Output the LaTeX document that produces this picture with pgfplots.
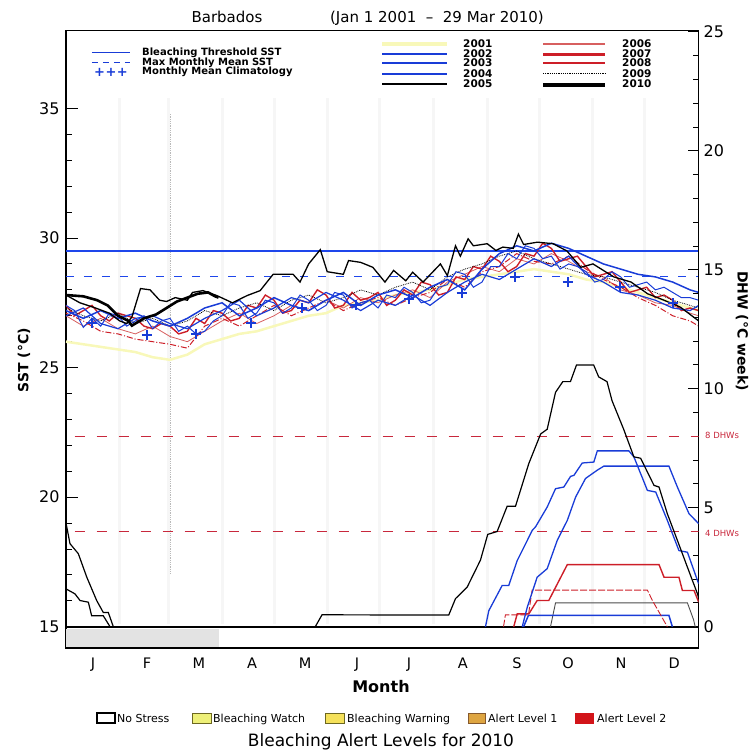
\documentclass[border=0pt]{standalone}
\usepackage{pgfplots}
\pgfplotsset{compat=1.18}
\usepackage{fontspec}
\setmainfont{DejaVu Sans}
\definecolor{cblue}{RGB}{25,60,215}
\definecolor{tblue}{RGB}{30,70,235}
\definecolor{cred}{RGB}{205,30,40}
\definecolor{cpink}{RGB}{215,95,95}
\definecolor{cyel}{RGB}{248,248,185}
\definecolor{dred}{RGB}{200,40,60}
\definecolor{watch}{RGB}{238,240,120}
\definecolor{warn}{RGB}{245,225,90}
\definecolor{alertone}{RGB}{222,165,65}
\definecolor{alerttwo}{RGB}{210,20,25}
\newcommand\fs[1]{\fontsize{#1}{#1}\selectfont}
\begin{document}
\begin{tikzpicture}
\begin{scope}[x=1pt,y=-1pt,shift={(-66pt,648pt)}]
\path (0,0) rectangle (750,753);
\end{scope}
% ---------------- SST axis ----------------
\begin{axis}[
  at={(0pt,0pt)}, anchor=south west,
  scale only axis, width=632.7pt, height=617.3pt,
  xmin=0, xmax=365, ymin=14.18, ymax=38,
  xtick={15.6,46.7,76.7,107.3,137.9,167.9,197.9,229,260.2,289.6,320.2,350.8},
  xticklabels={J,F,M,A,M,J,J,A,S,O,N,D},
  xtick style={draw=none},
  xtick pos=left, ytick pos=left,
  ytick={15,20,25,30,35}, minor y tick num=4,
  tick align=inside,
  major tick length=12pt, minor tick length=6pt,
  ytick style={black, line width=1pt},
  axis line style={line width=1.3pt},
  /pgf/number format/assume math mode=true,
  yticklabel style={font=\fs{16}, xshift=-3pt},
  xticklabel style={font=\fs{14.5}, yshift=-6pt},
]
% faint month boundaries
\pgfplotsinvokeforeach{31,59,90,120,151,181,212,243,273,304,334}{
  \addplot[gray!7, line width=3pt, forget plot] coordinates {(#1,15.1) (#1,35.4)};
}
\addplot[gray!55, densely dotted, line width=0.8pt, forget plot] coordinates {(60,17.05) (60,34.8)};
% thresholds
\addplot[tblue, line width=1.2pt] coordinates {(0,29.5) (365,29.5)};
\addplot[tblue, line width=1.1pt, dash pattern=on 8pt off 10pt] coordinates {(0,28.5) (365,28.5)};
% 2001
\addplot[cyel, line width=2.5pt] coordinates {(0,26.0)(10,25.9)(20,25.8)(30,25.7)(40,25.6)(50,25.4)(60,25.3)(70,25.5)(80,25.9)(90,26.1)(100,26.3)(110,26.4)(120,26.6)(130,26.8)(140,27.0)(150,27.1)(160,27.4)(170,27.5)(180,27.6)(190,27.8)(200,27.9)(210,28.0)(220,28.2)(230,28.4)(240,28.5)(250,28.6)(260,28.7)(270,28.8)(280,28.7)(290,28.6)(300,28.4)(310,28.3)(320,28.1)(330,27.9)(340,27.7)(350,27.5)(360,27.3)(365,27.2)};
% 2006
\addplot[cpink, line width=0.8pt] coordinates {(0,27.0)(10,26.6)(20,26.9)(30,26.5)(40,26.3)(50,26.6)(60,26.2)(70,26.0)(80,26.4)(90,26.8)(100,27.1)(110,26.7)(120,27.0)(130,27.4)(140,27.2)(150,27.6)(160,27.3)(170,27.7)(180,27.5)(190,27.8)(200,28.0)(210,27.7)(220,28.3)(230,28.6)(240,28.9)(250,28.7)(260,29.2)(270,29.0)(280,29.4)(290,29.1)(300,28.7)(310,28.5)(320,28.0)(330,27.8)(340,27.5)(350,27.4)(360,27.1)(365,27.0)};
% 2008
\addplot[cred, line width=1pt, dash pattern=on 6pt off 2pt on 1pt off 2pt] coordinates {(0,27.1)(10,26.8)(20,26.4)(30,26.3)(40,26.1)(50,26.0)(60,25.9)(70,25.75)(80,26.6)(90,26.9)(100,26.6)(110,27.0)(120,27.4)(130,27.0)(140,27.3)(150,27.6)(160,27.2)(170,27.5)(180,27.7)(190,27.4)(200,27.7)(210,27.9)(220,28.4)(230,28.1)(240,28.7)(250,28.9)(260,29.4)(270,29.1)(280,29.0)(290,29.3)(300,28.8)(310,28.4)(320,28.1)(330,27.7)(340,27.4)(350,27.0)(360,26.8)(365,26.6)};
% 2007
\addplot[cred, line width=1.4pt] coordinates {(0,27.4)(5,27.0)(10,27.2)(15,27.4)(20,27.0)(25,26.8)(30,27.1)(35,27.0)(40,26.9)(45,26.6)(50,26.5)(55,26.7)(60,26.6)(65,26.3)(70,26.4)(75,26.9)(80,26.7)(85,27.2)(90,27.1)(95,26.8)(100,26.9)(105,27.4)(110,27.3)(115,27.8)(120,27.6)(125,27.1)(130,27.2)(135,27.6)(140,27.5)(145,28.0)(150,27.8)(155,27.3)(160,27.4)(165,27.9)(170,27.6)(175,27.7)(180,27.9)(185,27.4)(190,27.6)(195,28.0)(200,27.8)(205,28.3)(210,28.2)(215,27.8)(220,27.9)(225,28.5)(230,28.4)(235,28.9)(240,28.8)(245,29.3)(250,29.1)(255,28.7)(260,28.9)(265,29.4)(270,29.3)(275,29.8)(280,29.6)(285,29.1)(290,29.2)(295,29.3)(300,28.9)(305,28.5)(310,28.6)(315,28.7)(320,28.3)(325,27.9)(330,28.0)(335,28.1)(340,27.7)(345,27.8)(350,27.6)(355,27.2)(360,27.3)(365,27.2)};
% 2009
\addplot[black, line width=0.8pt, densely dotted] coordinates {(0,27.3)(10,27.0)(20,26.8)(30,27.1)(40,26.7)(50,26.9)(60,26.6)(70,26.8)(80,27.2)(90,27.0)(100,27.3)(110,27.5)(120,27.2)(130,27.6)(140,27.8)(150,27.5)(160,27.7)(170,28.0)(180,27.8)(190,28.1)(200,28.3)(210,28.0)(220,28.5)(230,28.8)(240,29.0)(250,29.3)(260,29.5)(270,29.2)(280,29.0)(290,28.8)(300,28.6)(310,28.5)(320,28.3)(330,28.1)(340,27.9)(350,27.6)(360,27.4)(365,27.3)};
% 2002
\addplot[cblue, line width=1pt] coordinates {(0,27.4)(5,27.2)(10,26.55)(15,26.9)(20,26.6)(25,27.1)(30,27.0)(35,26.6)(40,26.8)(45,27.0)(50,26.5)(55,26.8)(60,26.9)(65,26.4)(70,26.6)(75,26.3)(80,26.4)(85,26.8)(90,27.0)(95,27.5)(100,27.4)(105,26.9)(110,27.1)(115,27.6)(120,27.5)(125,27.1)(130,27.3)(135,27.8)(140,27.6)(145,27.2)(150,27.4)(155,27.9)(160,27.8)(165,27.3)(170,27.5)(175,27.6)(180,27.3)(185,27.8)(190,27.7)(195,28.1)(200,27.9)(205,27.5)(210,27.6)(215,28.1)(220,28.2)(225,28.7)(230,28.6)(235,28.1)(240,28.3)(245,28.9)(250,28.9)(255,29.4)(260,29.2)(265,29.7)(270,29.6)(275,29.2)(280,29.3)(285,28.8)(290,29.0)(295,28.9)(300,28.7)(305,28.3)(310,28.4)(315,28.7)(320,28.5)(325,28.1)(330,28.2)(335,28.3)(340,28.0)(345,28.1)(350,27.9)(355,27.7)(360,27.7)(365,27.6)};
% 2003
\addplot[cblue, line width=1.5pt] coordinates {(0,27.2)(10,26.9)(20,27.2)(30,26.9)(40,27.1)(50,26.8)(60,26.6)(70,26.9)(80,27.3)(90,27.5)(100,27.0)(110,27.3)(120,27.7)(130,27.4)(140,27.2)(150,27.6)(160,27.9)(170,27.4)(180,27.8)(190,28.0)(200,27.7)(210,28.1)(220,28.4)(230,28.0)(240,28.8)(250,29.4)(260,29.7)(270,29.5)(280,29.8)(290,29.6)(300,29.3)(310,29.0)(320,28.8)(330,28.6)(340,28.5)(350,28.3)(360,28.0)(365,27.9)};
% 2004
\addplot[cblue, line width=1.2pt] coordinates {(0,27.0)(10,27.3)(20,26.7)(30,26.5)(40,26.9)(50,27.0)(60,26.7)(70,26.5)(80,26.9)(90,27.2)(100,27.6)(110,27.0)(120,27.3)(130,27.7)(140,27.5)(150,27.9)(160,27.6)(170,27.2)(180,27.6)(190,27.4)(200,27.8)(210,27.4)(220,27.9)(230,28.3)(240,28.6)(250,28.4)(260,28.8)(270,29.2)(280,28.9)(290,29.3)(300,28.6)(310,28.3)(320,27.9)(330,27.8)(340,27.6)(350,27.3)(360,27.2)(365,27.4)};
% 2005
\addplot[black, line width=1.3pt] coordinates {(0,27.8)(8,27.5)(17,27.3)(25,27.1)(31,26.8)(35,26.7)(38,26.95)(43,28.05)(48.5,28.0)(54,27.6)(58,27.55)(63,27.7)(70,27.6)(73,27.9)(79,27.97)(87,27.78)(96,27.5)(104.5,27.78)(112,27.97)(119.5,28.6)(131,28.6)(135,28.3)(140,29.0)(146.7,29.55)(150.7,28.7)(160,28.6)(163,29.13)(170,29.06)(177,28.87)(184,28.3)(189,28.75)(196,28.35)(200,28.68)(206,28.3)(216,29.0)(220,28.55)(224.7,29.7)(227.5,29.3)(232,29.97)(235,29.7)(243,29.78)(248,29.52)(252,29.65)(258,29.6)(261,30.15)(264,29.75)(272,29.84)(281,29.78)(289,29.5)(297,28.87)(304,29.0)(316,28.5)(326,28.3)(335.5,27.85)(345,27.6)(354.5,27.33)(365,26.8)};
% 2010
\addplot[black, line width=2.6pt] coordinates {(0,27.8)(10,27.75)(18,27.6)(24,27.4)(30,27.0)(36,26.8)(38,26.62)(45,26.9)(52,27.05)(58,27.3)(64,27.55)(70,27.7)(76,27.85)(82,27.9)(86,27.75)(88,27.7)};
% climatology
\addplot[only marks, mark=+, mark size=5pt, cblue, line width=2pt] coordinates {(15.2,26.73)(46.5,26.27)(75,26.3)(106.5,26.71)(136.3,27.3)(167.3,27.43)(198,27.65)(228.3,27.88)(259,28.49)(289.4,28.29)(319.6,28.1)(350,27.48)};
\end{axis}
% ---------------- DHW axis ----------------
\begin{axis}[
  at={(0pt,0pt)}, anchor=south west,
  scale only axis, width=632.7pt, height=617.3pt,
  xmin=0, xmax=365, ymin=-0.895, ymax=25.05,
  axis x line=none, axis y line*=right,
  ytick={0,5,10,15,20,25}, minor y tick num=4,
  tick align=inside,
  major tick length=11pt, minor tick length=6pt,
  ytick style={black, line width=1pt},
  axis line style={line width=1.3pt},
  /pgf/number format/assume math mode=true,
  yticklabel style={font=\fs{16}, xshift=1.5pt},
]
\addplot[fill=gray!22, draw=none] coordinates {(0,-0.1)(88,-0.1)(88,-0.86)(0,-0.86)};
\addplot[dred, line width=1.2pt, dash pattern=on 10pt off 12pt] coordinates {(5,8)(365,8)};
\addplot[dred, line width=1.2pt, dash pattern=on 10pt off 12pt] coordinates {(5,4)(365,4)};
\addplot[black, line width=2.2pt] coordinates {(0,0)(365,0)};
% carry-over DHW in January
\addplot[black, line width=1.2pt] coordinates {(0,4.36)(2.3,3.49)(7.1,3.07)(12,2.08)(17.7,1.1)(21.5,0.6)(24.4,0.6)(27.3,0)};
\addplot[black, line width=1.2pt] coordinates {(0,1.59)(5.2,1.38)(8.1,1.1)(12.9,1.03)(14.8,0.46)(21.5,0.46)(25.4,0)};
% grey
\addplot[black!70, line width=0.9pt] coordinates {(279.5,0)(282.4,1.0)(358.5,1.0)(362,0.3)(363,0)};
% small blue
\addplot[cblue, line width=1.5pt] coordinates {(264,0)(266.8,0.48)(347.8,0.48)(349.8,0)};
% red thin
\addplot[cred, line width=0.9pt, dash pattern=on 7pt off 2pt] coordinates {(252.4,0)(253.5,0.5)(266.8,0.5)(268.9,1.54)(335.4,1.54)(338.3,1.1)(346.9,0)};
% red thick
\addplot[cred, line width=1.4pt] coordinates {(258.3,0)(260.3,0.54)(267,0.54)(271.8,1.1)(278.5,1.1)(289.2,2.61)(342.1,2.61)(345,2.08)(353.6,2.08)(355.6,1.52)(362.3,1.52)(365,1.03)};
% blue A
\addplot[cblue, line width=1.3pt] coordinates {(242,0)(243.9,0.67)(251.6,1.73)(255.4,1.73)(260.3,2.78)(269,4.05)(270.9,4.2)(277.6,5.03)(282.4,5.8)(287.2,5.87)(291.1,6.32)(293,6.36)(297.8,6.88)(304.5,6.92)(306.5,7.39)(324.7,7.39)(327.6,7.14)(335.4,5.73)(340.2,5.66)(346.9,4.47)(353.6,3.2)(358.5,3.13)(364.3,1.94)(365,1.8)};
% blue B
\addplot[cblue, line width=1.3pt] coordinates {(263.2,0)(266.1,0.82)(271.8,2.08)(277.6,2.44)(283.4,3.63)(289.2,4.47)(294,5.45)(299.7,6.23)(306.5,6.58)(310.3,6.75)(347.8,6.75)(352.7,5.87)(359.4,4.75)(365,4.33)};
% 2005 DHW
\addplot[black, line width=1.2pt] coordinates {(0,0)(143.8,0)(147.7,0.5)(220.8,0.49)(224.7,1.18)(231.4,1.66)(233.3,1.94)(239.1,2.8)(243.3,3.88)(248.7,4.0)(254.5,5.06)(259.3,5.06)(267,6.86)(273.8,8.1)(277.6,8.3)(282.4,9.85)(286.6,10.3)(291,10.3)(294.5,11.0)(304.4,11.0)(307.3,10.5)(312.1,10.3)(315,9.5)(321.7,8.3)(327.6,7.14)(331.5,7.08)(339.2,5.94)(342.1,5.87)(346.9,4.75)(352.7,3.63)(358.5,2.5)(364.3,1.38)(365,1.2)};
\end{axis}
% ---------------- annotations ----------------
\begin{scope}[x=1pt,y=-1pt,shift={(-66pt,648pt)}]
\node[anchor=base, font=\fs{15}] at (227,22.5) {Barbados};
\node[anchor=base, font=\fs{15}] at (437,22.5) {(Jan 1 2001 \ -- \ 29 Mar 2010)};
% left legend
\draw[cblue, line width=1.2pt] (92,52.7) -- (130,52.7);
\draw[cblue, line width=1.2pt, dash pattern=on 6pt off 5pt] (92,62.3) -- (130,62.3);
\node[font=\bfseries\fs{13}, text=cblue, inner sep=0] at (111,72) {+\hspace{0.5pt}+\hspace{0.5pt}+};
\node[anchor=west, inner sep=0, font=\bfseries\fs{10}] at (142,52.7) {Bleaching Threshold SST};
\node[anchor=west, inner sep=0, font=\bfseries\fs{10}] at (142,62.3) {Max Monthly Mean SST};
\node[anchor=west, inner sep=0, font=\bfseries\fs{10}] at (142,71.7) {Monthly Mean Climatology};
% year legend
\draw[cyel, line width=4pt] (382,44) -- (447,44);
\draw[cblue, line width=1.8pt] (382,54.3) -- (447,54.3);
\draw[cblue, line width=2.2pt] (382,63.3) -- (447,63.3);
\draw[cblue, line width=2.2pt] (382,74.3) -- (447,74.3);
\draw[black, line width=2pt] (382,84.3) -- (447,84.3);
\draw[cpink, line width=1.2pt] (543,44) -- (605,44);
\draw[cred, line width=3pt] (543,54.3) -- (605,54.3);
\draw[cred, line width=1.8pt] (543,63.3) -- (605,63.3);
\draw[black, line width=1.2pt, densely dotted] (543,73.3) -- (605,73.3);
\draw[black, line width=4.5pt] (543,85) -- (605,85);
\foreach \yy/\tt in {43.5/2001,53.5/2002,63/2003,73.5/2004,83.5/2005}
  \node[anchor=west, inner sep=0, font=\bfseries\fs{10.5}] at (463,\yy) {\tt};
\foreach \yy/\tt in {43.5/2006,53.5/2007,63/2008,73.5/2009,83.5/2010}
  \node[anchor=west, inner sep=0, font=\bfseries\fs{10.5}] at (622,\yy) {\tt};
% right side labels
\node[anchor=west, inner sep=0, font=\fs{8.5}, text=dred] at (705,435) {8 DHWs};
\node[anchor=west, inner sep=0, font=\fs{8.5}, text=dred] at (705,533) {4 DHWs};
\node[rotate=-90, font=\bfseries\fs{14}, inner sep=0] at (742,331) {DHW (°C week)};
\node[rotate=90, font=\bfseries\fs{14}, inner sep=0] at (24,360) {SST (°C)};
% x label and bottom legend
\node[anchor=base, font=\bfseries\fs{16}] at (381,692) {Month};
\draw[black, line width=1.5pt, fill=white] (97,713) rectangle (115,723);
\node[anchor=base west, inner sep=0, font=\fs{11}] at (117,722) {No Stress};
\draw[olive!70!black, line width=1pt, fill=watch] (192,713) rectangle (211,723);
\node[anchor=base west, inner sep=0, font=\fs{11}] at (213,722) {Bleaching Watch};
\draw[olive!70!black, line width=1pt, fill=warn] (325,713) rectangle (344,723);
\node[anchor=base west, inner sep=0, font=\fs{11}] at (347,722) {Bleaching Warning};
\draw[brown!70!black, line width=1pt, fill=alertone] (468,713) rectangle (485,723);
\node[anchor=base west, inner sep=0, font=\fs{11}] at (488,722) {Alert Level 1};
\draw[alerttwo, line width=1pt, fill=alerttwo] (575,713) rectangle (593,723);
\node[anchor=base west, inner sep=0, font=\fs{11}] at (597,722) {Alert Level 2};
\node[anchor=base, font=\fs{17}] at (381,746) {Bleaching Alert Levels for 2010};
\end{scope}
\end{tikzpicture}
\end{document}
